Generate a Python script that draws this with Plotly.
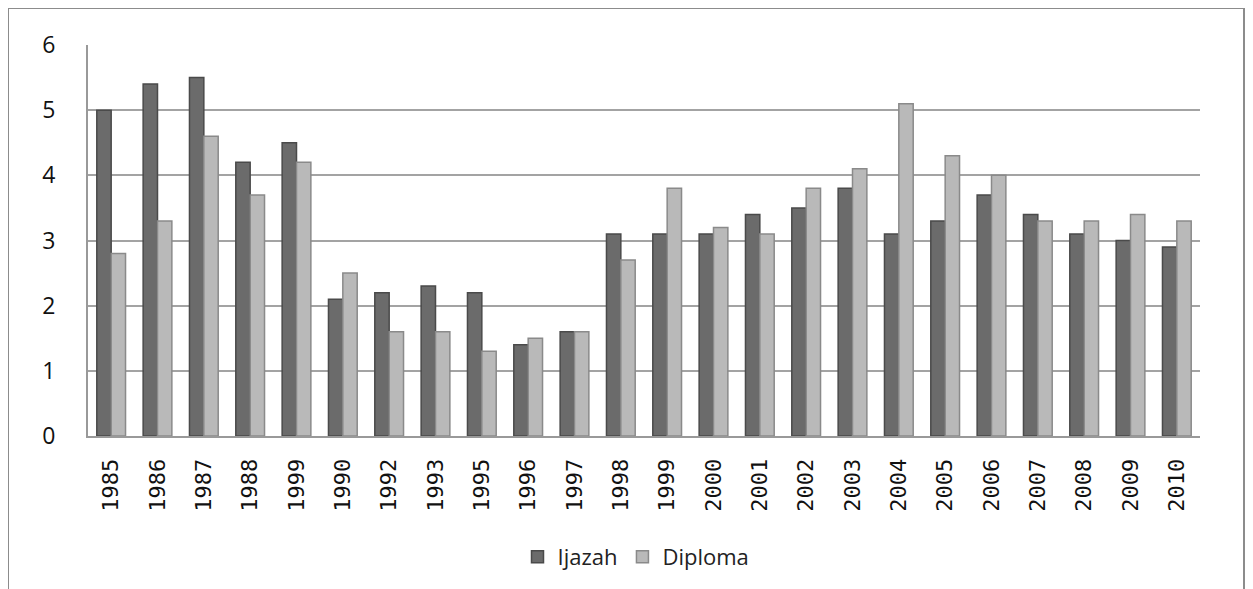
import plotly.graph_objects as go

years = ["1985", "1986", "1987", "1988", "1999", "1990", "1992", "1993", "1995", "1996",
         "1997", "1998", "1999", "2000", "2001", "2002", "2003", "2004", "2005", "2006",
         "2007", "2008", "2009", "2010"]
ijazah = [5.0, 5.4, 5.5, 4.2, 4.5, 2.1, 2.2, 2.3, 2.2, 1.4, 1.6, 3.1, 3.1, 3.1, 3.4, 3.5,
          3.8, 3.1, 3.3, 3.7, 3.4, 3.1, 3.0, 2.9]
diploma = [2.8, 3.3, 4.6, 3.7, 4.2, 2.5, 1.6, 1.6, 1.3, 1.5, 1.6, 2.7, 3.8, 3.2, 3.1, 3.8,
           4.1, 5.1, 4.3, 4.0, 3.3, 3.3, 3.4, 3.3]
y_ticks = [0, 1, 2, 3, 4, 5, 6]

pos = list(range(len(years)))

fig = go.Figure()
fig.add_trace(go.Bar(x=pos, y=ijazah, name="Ijazah",
                     marker=dict(color="#6b6b6b", line=dict(color="#4a4a4a", width=1.5))))
fig.add_trace(go.Bar(x=pos, y=diploma, name="Diploma",
                     marker=dict(color="#b9b9b9", line=dict(color="#8a8a8a", width=1.5))))

OFF = 8  # page body margin
W, H = 1253 - OFF, 589 - OFF
L, R, T, B = 88 - OFF, 53, 45 - OFF, 152
pw, ph = W - L - R, H - T - B

def px_x(v):
    return (v - OFF - L) / pw

def px_y(v):
    return (H - B - (v - OFF)) / ph

fig.update_layout(
    width=W, height=H,
    margin=dict(l=L, r=R, t=T, b=B),
    paper_bgcolor="white", plot_bgcolor="white",
    barmode="group", bargap=0.38, bargroupgap=0.0,
    showlegend=True,
    legend=dict(orientation="h", x=px_x(636), xanchor="center", y=px_y(557), yanchor="middle",
                font=dict(family="Open Sans", size=22, color="#222"),
                itemwidth=30, traceorder="normal"),
    xaxis=dict(tickmode="array", tickvals=pos, ticktext=years, tickangle=-90,
               range=[-0.5, len(years) - 0.5],
               tickfont=dict(family="DejaVu Sans Mono", size=22, color="#111"),
               showgrid=False, showline=True, linecolor="#999999", linewidth=2,
               ticks="", ticklen=0, zeroline=False, ticklabelstandoff=12),
    yaxis=dict(range=[0, 6], tickmode="array", tickvals=y_ticks,
               tickfont=dict(family="Open Sans", size=23, color="#111"),
               showgrid=True, gridcolor="#a3a3a3", gridwidth=2,
               showline=True, linecolor="#999999", linewidth=2,
               ticks="", zeroline=False, ticklabelstandoff=26),
    font=dict(family="Open Sans"),
)

fig.add_shape(type="rect", xref="paper", yref="paper",
              x0=px_x(8), x1=px_x(1244), y0=px_y(600), y1=px_y(8),
              line=dict(color="#8c8c8c", width=2), fillcolor="rgba(0,0,0,0)", layer="below")

fig.write_html("out.html")
